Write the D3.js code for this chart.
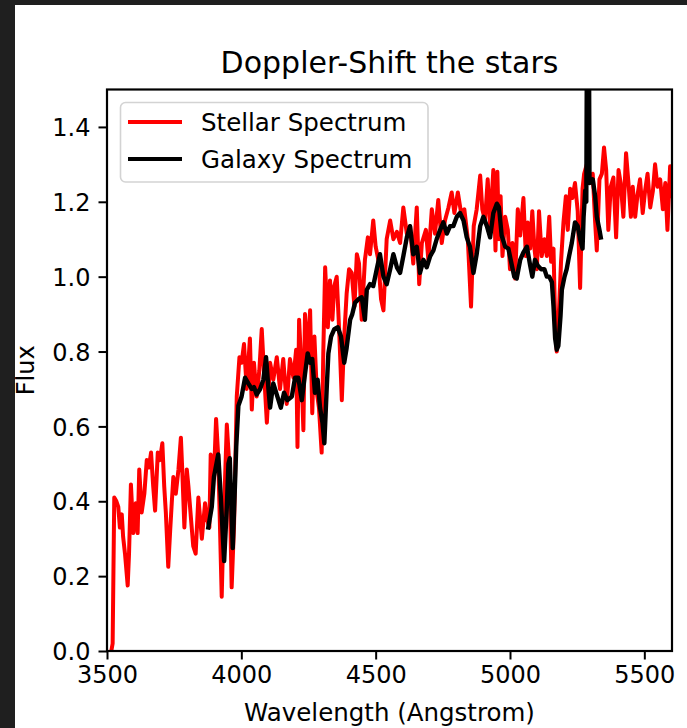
<!DOCTYPE html>
<html>
<head>
<meta charset="utf-8">
<script src="https://cdn.jsdelivr.net/npm/d3@7"></script>
<style>
  html, body { margin: 0; padding: 0; background: #ffffff; }
  svg { display: block; }
  text { font-family: "DejaVu Sans", sans-serif; fill: #000; }
</style>
</head>
<body>
<svg id="chart" width="687" height="728"></svg>
<script>
// Stellar template spectrum (wavelength in Angstrom, normalised flux)
const stellarWave = [3516,3521,3527,3535,3542,3548,3555,3560,3567,3577,3582,3589,3598,3607,3614,3620,3629,3639,3648,3656,3664,3672,3679,3689,3697,3706,3713,3719,3728,3735,3741,3747,3756,3766,3775,3780,3788,3797,3803,3813,3821,3830,3840,3853,3865,3873,3881,3886,3898,3906,3914,3927,3933,3946,3955,3964,3973,3983,3993,4001,4010,4020,4032,4039,4047,4057,4067,4076,4084,4095,4107,4119,4132,4144,4156,4169,4181,4194,4204,4209,4215,4222,4231,4237,4247,4256,4264,4272,4281,4289,4299,4305,4312,4322,4330,4339,4346,4355,4364,4374,4383,4392,4401,4411,4421,4430,4438,4448,4460,4471,4479,4491,4500,4510,4520,4529,4541,4554,4566,4579,4591,4603,4616,4628,4640,4653,4662,4672,4687,4696,4709,4721,4733,4746,4758,4771,4783,4793,4806,4818,4830,4843,4855,4865,4876,4889,4897,4907,4917,4926,4938,4946,4953,4959,4965,4972,4982,4992,5000,5009,5019,5029,5038,5050,5059,5066,5075,5083,5091,5100,5108,5118,5128,5137,5146,5153,5162,5168,5174,5183,5190,5199,5208,5215,5224,5232,5242,5252,5261,5270,5276,5286,5298,5308,5317,5323,5333,5342,5350,5358,5366,5375,5385,5395,5404,5412,5422,5432,5441,5450,5457,5466,5474,5484,5494,5503,5512,5522,5532,5540,5549,5559,5569,5578,5586,5596,5602];
const stellarFlux = [0.0,0.02,0.41,0.40,0.385,0.33,0.365,0.305,0.26,0.175,0.26,0.445,0.315,0.395,0.315,0.485,0.37,0.42,0.51,0.49,0.53,0.44,0.375,0.53,0.51,0.555,0.44,0.37,0.225,0.32,0.395,0.465,0.42,0.485,0.57,0.485,0.33,0.485,0.44,0.35,0.28,0.26,0.41,0.30,0.395,0.35,0.33,0.525,0.465,0.62,0.52,0.145,0.32,0.605,0.50,0.17,0.34,0.68,0.785,0.77,0.82,0.70,0.835,0.645,0.77,0.68,0.75,0.86,0.75,0.61,0.77,0.725,0.785,0.70,0.78,0.66,0.78,0.73,0.805,0.545,0.885,0.78,0.59,0.90,0.78,0.91,0.635,0.84,0.69,0.65,0.53,0.795,1.025,0.865,0.99,0.885,0.975,1.00,0.86,0.67,0.84,0.955,1.02,1.01,0.92,1.06,1.035,0.885,1.045,1.105,1.06,1.15,1.08,1.045,0.94,0.91,1.10,1.15,1.10,1.12,1.09,1.185,1.115,1.135,1.035,1.185,0.98,1.09,1.125,1.045,1.18,1.115,1.205,1.09,1.15,1.185,1.225,1.17,1.225,1.17,1.18,1.10,0.92,1.135,1.18,1.27,1.18,1.15,1.26,1.135,1.285,1.07,1.28,1.10,1.215,1.055,1.16,1.125,1.02,1.09,0.995,1.18,1.11,1.21,1.055,1.145,1.075,1.175,1.075,1.02,1.175,1.055,1.10,1.055,1.16,1.04,1.075,0.88,0.80,0.92,1.04,1.145,1.215,1.125,1.235,1.21,1.25,1.175,0.97,1.235,1.275,1.30,1.25,1.275,1.145,1.07,1.26,1.275,1.345,1.285,1.125,1.24,1.265,1.105,1.285,1.25,1.16,1.33,1.25,1.16,1.24,1.16,1.215,1.26,1.17,1.23,1.275,1.185,1.23,1.30,1.24,1.26,1.18,1.25,1.125,1.295,1.215];

// Galaxy spectrum
const galaxyWave = [3877,3890,3898,3914,3923,3936,3946,3952,3957,3968,3977,3981,3989,4001,4014,4026,4039,4047,4057,4070,4082,4092,4101,4107,4119,4134,4147,4159,4171,4188,4200,4212,4225,4237,4247,4256,4264,4274,4284,4293,4302,4309,4318,4324,4334,4346,4359,4371,4383,4392,4405,4413,4423,4436,4448,4460,4467,4479,4491,4504,4516,4529,4541,4554,4566,4579,4591,4603,4616,4628,4640,4653,4665,4678,4690,4703,4715,4727,4740,4752,4765,4777,4789,4802,4814,4827,4839,4851,4864,4876,4889,4901,4914,4926,4938,4951,4959,4969,4982,4994,5007,5016,5025,5038,5050,5063,5075,5083,5093,5103,5116,5128,5137,5146,5156,5162,5168,5174,5180,5188,5193,5203,5211,5220,5230,5242,5252,5261,5270,5274,5280,5284,5288,5292,5296,5308,5317,5323,5333,5338];
const galaxyFlux = [0.33,0.385,0.465,0.525,0.42,0.24,0.385,0.50,0.515,0.275,0.457,0.545,0.655,0.68,0.73,0.715,0.70,0.705,0.685,0.70,0.725,0.785,0.70,0.65,0.715,0.68,0.65,0.69,0.67,0.68,0.73,0.73,0.67,0.74,0.795,0.77,0.78,0.69,0.725,0.65,0.61,0.555,0.705,0.795,0.84,0.86,0.865,0.84,0.77,0.81,0.885,0.90,0.93,0.94,0.945,0.885,0.965,0.98,0.975,1.02,1.06,1.00,0.98,1.02,1.06,1.025,1.01,1.055,1.105,1.135,1.06,1.08,1.01,1.045,1.025,1.055,1.07,1.10,1.125,1.145,1.115,1.135,1.135,1.16,1.17,1.15,1.105,1.08,1.01,1.06,1.135,1.16,1.135,1.105,1.17,1.195,1.185,1.11,1.08,1.075,1.03,1.00,0.995,1.045,1.065,1.08,1.03,1.00,1.045,1.03,1.02,1.02,1.00,1.00,0.985,0.92,0.835,0.805,0.815,0.895,0.965,1.00,1.02,1.055,1.09,1.145,1.135,1.10,1.075,1.16,1.23,1.20,1.95,1.95,1.25,1.26,1.215,1.16,1.125,1.105];

// Axis ticks and labels
const xTicks = [3500, 4000, 4500, 5000, 5500];
const yTicks = [0.0, 0.2, 0.4, 0.6, 0.8, 1.0, 1.2, 1.4];
const seriesNames = ["Stellar Spectrum", "Galaxy Spectrum"];
const seriesColors = ["#ff0000", "#000000"];

const svg = d3.select("#chart");

// dark window edge around the figure
svg.append("rect").attr("x", 0).attr("y", 0).attr("width", 687).attr("height", 728).attr("fill", "#1f1f1f");
svg.append("rect").attr("x", 15).attr("y", 5).attr("width", 672).attr("height", 723).attr("fill", "#ffffff");

const plot = { left: 107, right: 672, top: 89.5, bottom: 651 };

const x = d3.scaleLinear().domain([3500, 5603]).range([plot.left, plot.right]);
const y = d3.scaleLinear().domain([0, 1.5]).range([plot.bottom, plot.top]);

svg.append("defs").append("clipPath").attr("id", "plot-clip")
  .append("rect")
  .attr("x", plot.left).attr("y", plot.top)
  .attr("width", plot.right - plot.left).attr("height", plot.bottom - plot.top);

const line = d3.line().x(d => x(d[0])).y(d => y(d[1]));

const stellar = stellarWave.map((w, i) => [w, stellarFlux[i]]);
const galaxy = galaxyWave.map((w, i) => [w, galaxyFlux[i]]);

const lines = svg.append("g").attr("clip-path", "url(#plot-clip)");
lines.append("path").datum(stellar)
  .attr("d", line).attr("fill", "none")
  .attr("stroke", seriesColors[0]).attr("stroke-width", 4)
  .attr("stroke-linejoin", "round").attr("stroke-linecap", "square");
lines.append("path").datum(galaxy)
  .attr("d", line).attr("fill", "none")
  .attr("stroke", seriesColors[1]).attr("stroke-width", 4.4)
  .attr("stroke-linejoin", "round").attr("stroke-linecap", "square");

// axes
const xAxis = d3.axisBottom(x).tickValues(xTicks).tickFormat(d3.format("d"))
  .tickSize(8.5).tickPadding(6).tickSizeOuter(0);
const yAxis = d3.axisLeft(y).tickValues(yTicks).tickFormat(d3.format(".1f"))
  .tickSize(8.5).tickPadding(8).tickSizeOuter(0);

const gx = svg.append("g").attr("transform", `translate(0,${plot.bottom})`).call(xAxis);
const gy = svg.append("g").attr("transform", `translate(${plot.left},0)`).call(yAxis);
[gx, gy].forEach(g => {
  g.select(".domain").remove();
  g.selectAll(".tick line").attr("stroke", "#000").attr("stroke-width", 2);
  g.selectAll(".tick text").style("font-size", "24px").style("font-family", "DejaVu Sans").attr("fill", "#000");
});
gy.selectAll(".tick text").attr("dy", "0.36em");

// frame
svg.append("rect")
  .attr("x", plot.left).attr("y", plot.top)
  .attr("width", plot.right - plot.left).attr("height", plot.bottom - plot.top)
  .attr("fill", "none").attr("stroke", "#000").attr("stroke-width", 2.2);

// title and axis labels
svg.append("text").attr("x", (plot.left + plot.right) / 2).attr("y", 73)
  .attr("text-anchor", "middle").style("font-size", "30px")
  .text("Doppler-Shift the stars");
svg.append("text").attr("x", (plot.left + plot.right) / 2).attr("y", 721)
  .attr("text-anchor", "middle").style("font-size", "24.5px")
  .text("Wavelength (Angstrom)");
svg.append("text")
  .attr("transform", `translate(33.5,${(plot.top + plot.bottom) / 2}) rotate(-90)`)
  .attr("text-anchor", "middle").style("font-size", "24px")
  .text("Flux");

// legend
const legend = svg.append("g");
legend.append("rect")
  .attr("x", 120.5).attr("y", 102.5).attr("width", 307.5).attr("height", 79.5)
  .attr("rx", 5).attr("ry", 5)
  .attr("fill", "#ffffff").attr("fill-opacity", 0.85)
  .attr("stroke", "#d3d3d3").attr("stroke-width", 1.6);
seriesNames.forEach((name, i) => {
  const ly = 122 + i * 37;
  legend.append("line")
    .attr("x1", 128).attr("x2", 182).attr("y1", ly).attr("y2", ly)
    .attr("stroke", seriesColors[i]).attr("stroke-width", 3.8);
  legend.append("text").attr("x", 201).attr("y", ly + 8.5)
    .style("font-size", "24.5px").text(name);
});
</script>
</body>
</html>
